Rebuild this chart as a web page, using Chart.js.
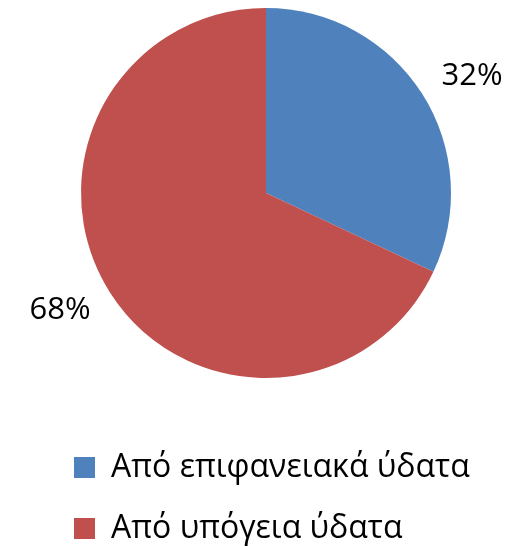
<!DOCTYPE html>
<html>
<head>
<meta charset="utf-8">
<script src="https://cdn.jsdelivr.net/npm/chart.js@4/dist/chart.umd.min.js"></script>
<style>
  html, body { margin: 0; padding: 0; background: #fff; }
  canvas { display: block; }
</style>
</head>
<body>
<canvas id="waterChart" width="532" height="546"></canvas>
<script>
// data
const categories = ["Από επιφανειακά ύδατα", "Από υπόγεια ύδατα"];
const shares = [32, 68];
const sliceColors = ["#4F81BD", "#C0504D"];

const fontFamily = "'Open Sans', 'Noto Sans', sans-serif";

// percent labels outside the slices
const outsideLabels = {
  id: "outsideLabels",
  afterDatasetsDraw(chart) {
    const ctx = chart.ctx;
    const meta = chart.getDatasetMeta(0);
    ctx.save();
    ctx.font = "31px " + fontFamily;
    ctx.fillStyle = "#000";
    ctx.textAlign = "center";
    ctx.textBaseline = "middle";
    meta.data.forEach((arc, i) => {
      const p = arc.getProps(["x", "y", "startAngle", "endAngle", "outerRadius"], true);
      const mid = (p.startAngle + p.endAngle) / 2 + 0.048;
      const dist = p.outerRadius + 52;
      const x = p.x + Math.cos(mid) * dist;
      const y = p.y + Math.sin(mid) * dist;
      ctx.fillText(shares[i] + "%", x, y);
    });
    ctx.restore();
  }
};

new Chart(document.getElementById("waterChart"), {
  type: "pie",
  data: {
    labels: categories,
    datasets: [{
      data: shares,
      backgroundColor: sliceColors,
      borderWidth: 0,
      radius: 185
    }]
  },
  options: {
    responsive: false,
    animation: false,
    devicePixelRatio: 1,
    // legend sits low under the pie, so its box runs a bit past the bottom edge
    layout: { padding: { top: 0, left: 45, right: 45, bottom: -8.5 } },
    plugins: {
      legend: {
        position: "bottom",
        align: "start",
        // empty title only used as a spacer above the legend rows
        title: { display: true, text: " ", font: { size: 10 }, padding: { top: 12, bottom: 12.5 } },
        labels: {
          boxWidth: 21,
          boxHeight: 21,
          padding: 29,
          color: "#000",
          font: { size: 32, family: fontFamily }
        }
      },
      tooltip: { enabled: false }
    }
  },
  plugins: [outsideLabels]
});
</script>
</body>
</html>
